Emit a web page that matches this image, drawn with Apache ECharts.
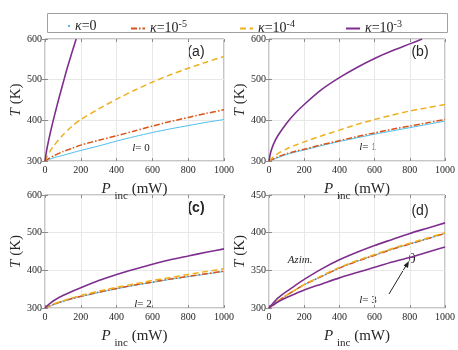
<!DOCTYPE html>
<html>
<head>
<meta charset="utf-8">
<script src="https://cdn.jsdelivr.net/npm/echarts@6/dist/echarts.min.js"></script>
<style>
  html, body { margin: 0; padding: 0; background: #fff; }
  #box { width: 458px; height: 350px; }
</style>
</head>
<body>
<div id="box"></div>
<script>
// P_inc (mW), shared x for most curves
const P = [0, 10, 25, 50, 100, 150, 200, 300, 400, 500, 600, 700, 800, 900, 1000];

// (a) l = 0
const aBlue = [300, 302, 304, 308, 314, 320, 326, 337, 349, 360, 370, 379, 387, 395, 402];
const aRed = [300, 303, 307, 313, 323, 331, 339, 351, 362, 374, 386, 397, 407, 417, 426];
const aYellow = [300, 310, 322, 338, 364, 385, 402, 428, 452, 474, 494, 512, 528, 543, 557];
const aPurpleP = [0, 10, 20, 30, 45, 60, 80, 100, 125, 150, 174];
const aPurple = [300, 328, 350, 370, 398, 424, 458, 490, 530, 566, 600];

// (b) l = 1
const bBlue = [300, 302, 304, 308, 316, 322, 327, 338, 348, 357, 366, 374, 382, 390, 398];
const bRed = [300, 302, 305, 310, 318, 324, 329, 340, 350, 360, 369, 378, 386, 394, 402];
const bYellow = [300, 304, 310, 318, 330, 339, 347, 362, 376, 390, 402, 413, 423, 431, 439];
const bPurpleP = [0, 10, 25, 50, 100, 150, 200, 300, 400, 500, 600, 700, 800, 870];
const bPurple = [300, 322, 341, 362, 393, 418, 439, 476, 505, 530, 552, 571, 588, 600];

// (c) l = 2
const cBlue = [300, 302, 305, 309, 317, 324, 330, 341, 351, 360, 368, 376, 383, 390, 397];
const cRed = [300, 302, 305, 310, 318, 325, 331, 342, 352, 361, 369, 377, 384, 391, 398];
const cYellow = [300, 303, 306, 311, 319, 327, 333, 345, 355, 364, 373, 381, 389, 397, 404];
const cPurple = [300, 305, 311, 320, 333, 344, 354, 373, 389, 403, 416, 428, 438, 448, 457];

// (d) l = 3, two azimuthal purple branches
const dBlue = [300, 302, 305, 309, 317, 324, 331, 342, 353, 362, 370, 378, 385, 392, 399];
const dRed = [300, 302, 305, 309, 317, 324, 331, 342, 353, 362, 370, 378, 385, 392, 399];
const dYellow = [300, 302, 305, 309, 317, 324, 331, 343, 354, 363, 371, 379, 386, 393, 400];
const dPurpleHi = [300, 303, 307, 313, 322, 330, 338, 352, 364, 374, 383, 391, 399, 406, 413];
const dPurpleLo = [300, 302, 304, 308, 314, 319, 324, 332, 340, 347, 354, 361, 367, 374, 381];

const xTicks = { min: 0, max: 1000, interval: 200 };
const yRanges = [[300, 600, 100], [300, 600, 100], [300, 600, 100], [300, 450, 50]];

const SERIF = "Liberation Serif";
const SANS = "Liberation Sans";
const INK = "#262626";
const C = { blue: "#4DBEEE", red: "#D95319", yellow: "#EDB120", purple: "#7E2F8E" };

const grids = [
  { left: 45, top: 39, width: 179, height: 122 },
  { left: 269, top: 39, width: 179, height: 122 },
  { left: 45, top: 195, width: 179, height: 122 },
  { left: 269, top: 195, width: 179, height: 122 }
].map(g => Object.assign(g, { show: true, borderColor: "#8c8c8c", borderWidth: 1 }));

function pair(xs, ys) {
  return xs.map((x, i) => [x, ys[i]]);
}

let xAxis = [], yAxis = [];
grids.forEach((g, i) => {
  let yr = yRanges[i];
  // bottom / left axes with labels
  xAxis.push({
    type: "value", gridIndex: i, min: xTicks.min, max: xTicks.max, interval: xTicks.interval,
    axisLine: { show: false },
    axisTick: { inside: true, length: 3, lineStyle: { color: "#8c8c8c" } },
    axisLabel: { color: INK, fontFamily: SERIF, fontSize: 10, margin: 4, formatter: v => String(v) },
    splitLine: { lineStyle: { color: "#e8e8e8" } },
    name: "{i|P} {s|inc} (mW)", nameLocation: "middle", nameGap: 16,
    nameTextStyle: {
      color: INK, fontFamily: SERIF, fontSize: 15,
      rich: {
        i: { fontStyle: "italic", fontFamily: SERIF, fontSize: 15, color: INK },
        s: { fontFamily: SERIF, fontSize: 11, color: INK, padding: [14, 0, 0, 0] }
      }
    }
  });
  yAxis.push({
    type: "value", gridIndex: i, min: yr[0], max: yr[1], interval: yr[2],
    axisLine: { show: false },
    axisTick: { inside: true, length: 3, lineStyle: { color: "#8c8c8c" } },
    axisLabel: { color: INK, fontFamily: SERIF, fontSize: 10, margin: 3 },
    splitLine: { lineStyle: { color: "#e8e8e8" } },
    name: "{i|T} (K)", nameLocation: "middle", nameGap: 15, nameRotate: 90,
    nameTextStyle: {
      color: INK, fontFamily: SERIF, fontSize: 15,
      rich: { i: { fontStyle: "italic", fontFamily: SERIF, fontSize: 15, color: INK } }
    }
  });
  // top / right tick-only axes
  xAxis.push({
    type: "value", gridIndex: i, position: "top", min: xTicks.min, max: xTicks.max, interval: xTicks.interval,
    axisLine: { show: false }, axisLabel: { show: false }, splitLine: { show: false },
    axisTick: { inside: true, length: 3, lineStyle: { color: "#8c8c8c" } }
  });
  yAxis.push({
    type: "value", gridIndex: i, position: "right", min: yr[0], max: yr[1], interval: yr[2],
    axisLine: { show: false }, axisLabel: { show: false }, splitLine: { show: false },
    axisTick: { inside: true, length: 3, lineStyle: { color: "#8c8c8c" } }
  });
});

const styles = {
  k0: { color: C.blue, width: 1, type: "solid" },
  k5: { color: C.red, width: 1.5, type: [6, 2, 1.5, 2] },
  k4: { color: C.yellow, width: 1.5, type: [6, 3.5] },
  k3: { color: C.purple, width: 1.6, type: "solid" }
};

function line(name, gi, data) {
  let st = styles[name];
  return {
    name: name, type: "line", xAxisIndex: gi * 2, yAxisIndex: gi * 2,
    data: data, symbol: "none", smooth: 0.25, clip: true, animation: false,
    lineStyle: { color: st.color, width: st.width, type: st.type },
    itemStyle: { color: st.color }
  };
}

const series = [
  line("k0", 0, pair(P, aBlue)),
  line("k5", 0, pair(P, aRed)),
  line("k4", 0, pair(P, aYellow)),
  line("k3", 0, pair(aPurpleP, aPurple)),
  line("k0", 1, pair(P, bBlue)),
  line("k5", 1, pair(P, bRed)),
  line("k4", 1, pair(P, bYellow)),
  line("k3", 1, pair(bPurpleP, bPurple)),
  line("k0", 2, pair(P, cBlue)),
  line("k5", 2, pair(P, cRed)),
  line("k4", 2, pair(P, cYellow)),
  line("k3", 2, pair(P, cPurple)),
  line("k0", 3, pair(P, dBlue)),
  line("k5", 3, pair(P, dRed)),
  line("k4", 3, pair(P, dYellow)),
  line("k3", 3, pair(P, dPurpleHi)),
  line("k3", 3, pair(P, dPurpleLo))
];

const legendText = {
  k0: "{g|κ}=0",
  k5: "{g|κ}=10{s|-5}",
  k4: "{g|κ}=10{s|-4}",
  k3: "{g|κ}=10{s|-3}"
};
const legendRich = {
  g: { fontFamily: SERIF, fontStyle: "italic", fontSize: 14, color: INK },
  s: { fontFamily: SERIF, fontSize: 10, color: INK, padding: [0, 0, 9, 0] }
};
function legendItem(name, left, w) {
  return {
    data: [name], left: left, top: 14, itemWidth: w, itemHeight: 10,
    formatter: n => legendText[n], selectedMode: false,
    itemStyle: { opacity: 0 },
    textStyle: { fontFamily: SERIF, fontSize: 14, color: INK, rich: legendRich }
  };
}

function label(text, x, y, font) {
  return {
    type: "text", x: x, y: y,
    style: Object.assign({ text: text, fill: INK, align: "center", verticalAlign: "middle" }, font)
  };
}
const sansLab = { fontFamily: SANS, fontSize: 14 };
const lFont = {
  fontFamily: SERIF, fontSize: 11,
  rich: { i: { fontFamily: SERIF, fontStyle: "italic", fontSize: 11, fill: INK } }
};

const graphic = [
  { type: "rect", shape: { x: 47.5, y: 13.5, width: 400, height: 19 },
    style: { fill: "none", stroke: "#a0a0a0", lineWidth: 1 } },
  label("(a)", 196, 52, sansLab),
  label("(b)", 420, 52, sansLab),
  label("(c)", 196, 208, Object.assign({ fontWeight: "bold" }, sansLab)),
  label("(d)", 420, 211, sansLab),
  label("{i|l}= 0", 141, 148, lFont),
  label("{i|l}= 1", 368, 147, lFont),
  label("{i|l}= 2", 143, 304, lFont),
  label("{i|l}= 3", 368, 300, lFont),
  label("Azim.", 300, 260, { fontFamily: SERIF, fontStyle: "italic", fontSize: 11 }),
  label("θ", 412, 260, { fontFamily: "DejaVu Serif", fontSize: 12 }),
  { type: "line", shape: { x1: 389, y1: 294, x2: 407, y2: 264 },
    style: { stroke: "#222", lineWidth: 1 } },
  { type: "polygon", shape: { points: [[409, 261], [408, 268], [403.6, 265.4]] },
    style: { fill: "#222" } }
];

const chart = echarts.init(document.getElementById("box"), null, { renderer: "canvas" });
chart.setOption({
  animation: false,
  grid: grids,
  xAxis: xAxis,
  yAxis: yAxis,
  legend: [
    legendItem("k0", 60, 2),
    legendItem("k5", 125, 14),
    legendItem("k4", 234, 13),
    legendItem("k3", 340, 14)
  ],
  series: series,
  graphic: graphic
});
</script>
</body>
</html>
